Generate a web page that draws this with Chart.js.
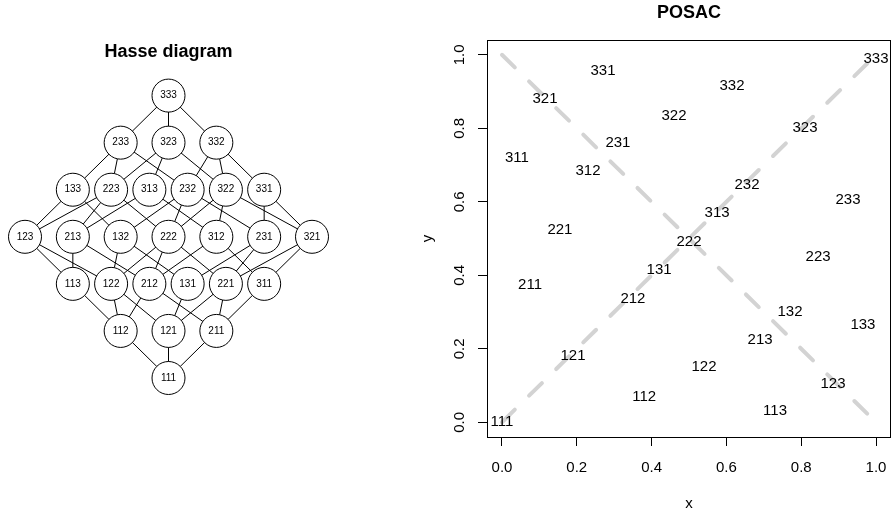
<!DOCTYPE html>
<html>
<head>
<meta charset="utf-8">
<script src="https://cdn.jsdelivr.net/npm/chart.js@4"></script>
<style>
  body { margin: 0; background: #fff; }
  #wrap { position: relative; width: 893px; height: 515px; }
  canvas { position: absolute; left: 0; top: 0; }
</style>
</head>
<body>
<div id="wrap">
  <canvas id="hasse" width="893" height="515"></canvas>
  <canvas id="posac" width="893" height="515"></canvas>
</div>
<script>
// Hasse diagram: profiles grouped by level (bottom to top)
const hasseLevels = [
  ["111"],
  ["112", "121", "211"],
  ["113", "122", "212", "131", "221", "311"],
  ["123", "213", "132", "222", "312", "231", "321"],
  ["133", "223", "313", "232", "322", "331"],
  ["233", "323", "332"],
  ["333"],
];

// POSAC scores
const posacLabels = ["111", "112", "113", "121", "122", "123", "131", "132", "133",
  "211", "212", "213", "221", "222", "223", "231", "232", "233",
  "311", "312", "313", "321", "322", "323", "331", "332", "333"];
const posacX = [0.00, 0.38, 0.73, 0.19, 0.54, 0.885, 0.42, 0.77, 0.965,
  0.075, 0.35, 0.69, 0.155, 0.50, 0.845, 0.31, 0.655, 0.925,
  0.04, 0.23, 0.575, 0.115, 0.46, 0.81, 0.27, 0.615, 1.00];
const posacY = [0.00, 0.07, 0.03, 0.18, 0.15, 0.105, 0.415, 0.30, 0.265,
  0.375, 0.335, 0.225, 0.525, 0.49, 0.45, 0.76, 0.645, 0.605,
  0.72, 0.685, 0.57, 0.88, 0.835, 0.80, 0.955, 0.915, 0.99];

const axisTicks = [0, 0.2, 0.4, 0.6, 0.8, 1.0];
const diagonalUp = [{ x: 0, y: 0 }, { x: 1, y: 1 }];
const diagonalDown = [{ x: 0, y: 1 }, { x: 1, y: 0 }];

const FONT = "'Liberation Sans', Arial, Helvetica, sans-serif";

document.addEventListener("DOMContentLoaded", function () {
  // draws a text label on every point of one dataset
  const pointText = {
    id: "pointText",
    afterDatasetsDraw(chart, args, opts) {
      const meta = chart.getDatasetMeta(opts.datasetIndex || 0);
      const ctx = chart.ctx;
      ctx.save();
      ctx.font = opts.size + "px " + FONT;
      ctx.fillStyle = "#000";
      ctx.textAlign = "center";
      ctx.textBaseline = "middle";
      meta.data.forEach((pt, i) => {
        ctx.fillText(opts.labels[i], pt.x, pt.y);
      });
      ctx.restore();
    },
  };

  const boxFrame = {
    id: "boxFrame",
    afterDraw(chart, args, opts) {
      if (!opts.show) return;
      const a = chart.chartArea;
      const ctx = chart.ctx;
      ctx.save();
      ctx.strokeStyle = "#000";
      ctx.lineWidth = 1;
      ctx.strokeRect(Math.round(a.left) + 0.5, Math.round(a.top) + 0.5,
        Math.round(a.right - a.left) - 1, Math.round(a.bottom - a.top));
      ctx.restore();
    },
  };

  // no extra room for overhanging tick labels
  function noOverhang(scale) {
    scale.paddingLeft = 0;
    scale.paddingRight = 0;
    scale.paddingTop = 0;
    scale.paddingBottom = 0;
  }

  // ---- Hasse diagram ----
  const pos = {};
  const nodes = [];
  const nodeLabels = [];
  hasseLevels.forEach((row, level) => {
    const n = row.length;
    const step = n === 6 ? 0.8 : 1;
    row.forEach((name, i) => {
      pos[name] = { x: (i - (n - 1) / 2) * step, y: level };
      nodes.push(pos[name]);
      nodeLabels.push(name);
    });
  });

  const edgeSets = [];
  nodeLabels.forEach((name) => {
    for (let k = 0; k < 3; k++) {
      const d = Number(name[k]);
      if (d < 3) {
        const up = name.slice(0, k) + (d + 1) + name.slice(k + 1);
        edgeSets.push({
          data: [pos[name], pos[up]],
          showLine: true,
          borderColor: "#000",
          borderWidth: 1,
          pointRadius: 0,
          clip: false,
        });
      }
    }
  });

  new Chart(document.getElementById("hasse"), {
    type: "scatter",
    data: {
      datasets: [
        {
          data: nodes,
          pointRadius: 16.5,
          pointBackgroundColor: "#fff",
          pointBorderColor: "#000",
          pointBorderWidth: 1,
          clip: false,
        },
      ].concat(edgeSets),
    },
    options: {
      responsive: false,
      animation: false,
      layout: { padding: { left: 25, right: 581, top: 41, bottom: 137 } },
      scales: {
        x: { display: false, min: -3, max: 3 },
        y: { display: false, min: 0, max: 6 },
      },
      plugins: {
        legend: { display: false },
        tooltip: { enabled: false },
        title: {
          display: true,
          text: "Hasse diagram",
          color: "#000",
          font: { family: FONT, size: 18, weight: "bold" },
          padding: { top: 0, bottom: 33 },
        },
        pointText: { datasetIndex: 0, labels: nodeLabels, size: 10 },
        boxFrame: { show: false },
      },
    },
    plugins: [pointText, boxFrame],
  });

  // ---- POSAC ----
  const posacPoints = posacX.map((x, i) => ({ x: x, y: posacY[i] }));
  const dashed = {
    showLine: true,
    borderColor: "#d3d3d3",
    borderWidth: 4,
    borderDash: [18, 20],
    borderCapStyle: "round",
    pointRadius: 0,
  };

  new Chart(document.getElementById("posac"), {
    type: "scatter",
    data: {
      datasets: [
        { data: posacPoints, pointRadius: 0 },
        Object.assign({ data: diagonalUp }, dashed),
        Object.assign({ data: diagonalDown }, dashed),
      ],
    },
    options: {
      responsive: false,
      animation: false,
      layout: { padding: { left: 419, right: 2, top: 2.5, bottom: 0 } },
      scales: {
        x: {
          min: -0.04,
          max: 1.04,
          afterBuildTicks: (scale) => {
            scale.ticks = axisTicks.map((v) => ({ value: v }));
          },
          afterFit: (scale) => { scale.height = 78; noOverhang(scale); },
          grid: { drawOnChartArea: false, tickLength: 9, color: "#000", tickColor: "#000" },
          border: { display: false },
          ticks: {
            color: "#000",
            padding: 13,
            autoSkip: false,
            maxRotation: 0,
            font: { family: FONT, size: 15 },
            callback: (v) => Number(v).toFixed(1),
          },
          title: {
            display: true,
            text: "x",
            color: "#000",
            font: { family: FONT, size: 15 },
            padding: { top: 0, bottom: 2 },
          },
        },
        y: {
          min: -0.04,
          max: 1.04,
          afterBuildTicks: (scale) => {
            scale.ticks = axisTicks.map((v) => ({ value: v }));
          },
          afterFit: (scale) => { scale.width = 68; noOverhang(scale); },
          grid: { drawOnChartArea: false, tickLength: 9, color: "#000", tickColor: "#000" },
          border: { display: false },
          ticks: {
            color: "#000",
            padding: 8,
            autoSkip: false,
            minRotation: 90,
            maxRotation: 90,
            crossAlign: "center",
            font: { family: FONT, size: 15 },
            callback: (v) => Number(v).toFixed(1),
          },
          title: {
            display: true,
            text: "y",
            color: "#000",
            font: { family: FONT, size: 15 },
            padding: { top: 0, bottom: 0 },
          },
        },
      },
      plugins: {
        legend: { display: false },
        tooltip: { enabled: false },
        title: {
          display: true,
          text: "POSAC",
          color: "#000",
          fullSize: false,
          font: { family: FONT, size: 18, weight: "bold" },
          padding: { top: 0, bottom: 16 },
        },
        pointText: { datasetIndex: 0, labels: posacLabels, size: 15 },
        boxFrame: { show: true },
      },
    },
    plugins: [pointText, boxFrame],
  });
});
</script>
</body>
</html>
